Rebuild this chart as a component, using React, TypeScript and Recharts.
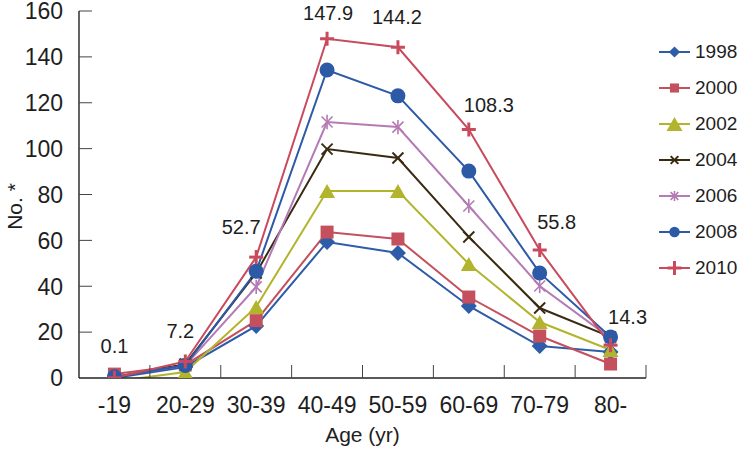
import React from "react";
import { LineChart, Line, XAxis, YAxis, LabelList } from "recharts";

const categories = ["-19", "20-29", "30-39", "40-49", "50-59", "60-69", "70-79", "80-"];
const s1998 = [0, 4.8, 22.7, 59.3, 54.5, 31.4, 13.9, 11.3];
const s2000 = [1.7, 5.7, 25, 63.6, 60.6, 35.3, 18.3, 6.1];
const s2002 = [-1.5, 2.6, 31, 81.5, 81.5, 49.7, 24.4, 12.2];
const s2004 = [0.3, 6, 45.8, 99.8, 95.9, 61.5, 30.5, 17.9];
const s2006 = [0.5, 5.5, 39.7, 111.6, 109.4, 75, 40.1, 17.4];
const s2008 = [0.5, 5.5, 46.5, 134.3, 123, 90.2, 45.8, 17.9];
const s2010 = [0.1, 7.2, 52.7, 147.9, 144.2, 108.3, 55.8, 14.3];
const yTicks = [0, 20, 40, 60, 80, 100, 120, 140, 160];

const FONT = "'Liberation Sans', Arial, sans-serif";
const INK = "#1e1e1e";

type Shape = "diamond" | "square" | "triangle" | "x" | "star" | "circle" | "plus";

const series: { key: string; name: string; values: number[]; color: string; shape: Shape }[] = [
  { key: "y1998", name: "1998", values: s1998, color: "#2e5ca8", shape: "diamond" },
  { key: "y2000", name: "2000", values: s2000, color: "#c4505e", shape: "square" },
  { key: "y2002", name: "2002", values: s2002, color: "#b2b52c", shape: "triangle" },
  { key: "y2004", name: "2004", values: s2004, color: "#3a2a12", shape: "x" },
  { key: "y2006", name: "2006", values: s2006, color: "#b47bb4", shape: "star" },
  { key: "y2008", name: "2008", values: s2008, color: "#2d5aa6", shape: "circle" },
  { key: "y2010", name: "2010", values: s2010, color: "#c84a5c", shape: "plus" },
];

const rows = categories.map((c, i) => {
  const row: Record<string, number | string> = { x: i + 0.5, label: c };
  series.forEach((s) => (row[s.key] = s.values[i]));
  return row;
});

// x ticks: labels on the half steps, inward tick marks on the whole steps
const xTicks = Array.from({ length: 17 }, (_, i) => i / 2);

// hand placed label offsets for the 2010 values, like the original
const labelOffsets = [
  [0, -32], [-5, -30], [-15, -30], [1, -26], [-1, -30], [20, -25], [17, -28], [17, -28],
];

function Marker({ shape, cx, cy, color, k = 1 }: { shape: Shape; cx: number; cy: number; color: string; k?: number }) {
  if (cx == null || cy == null) return null;
  switch (shape) {
    case "diamond": {
      const d = 8 * k;
      return <polygon points={`${cx},${cy - d} ${cx + d},${cy} ${cx},${cy + d} ${cx - d},${cy}`} fill={color} />;
    }
    case "square": {
      const d = 6.5 * k;
      return <rect x={cx - d} y={cy - d} width={2 * d} height={2 * d} fill={color} />;
    }
    case "triangle": {
      const w = 8 * k;
      const h = 7 * k;
      return <polygon points={`${cx},${cy - h} ${cx + w},${cy + h} ${cx - w},${cy + h}`} fill={color} />;
    }
    case "x": {
      const d = 5.5 * k;
      return (
        <g stroke={color} strokeWidth={2}>
          <line x1={cx - d} y1={cy - d} x2={cx + d} y2={cy + d} />
          <line x1={cx - d} y1={cy + d} x2={cx + d} y2={cy - d} />
        </g>
      );
    }
    case "star": {
      const d = 5.5 * k;
      return (
        <g stroke={color} strokeWidth={1.6}>
          <line x1={cx - d} y1={cy - d} x2={cx + d} y2={cy + d} />
          <line x1={cx - d} y1={cy + d} x2={cx + d} y2={cy - d} />
          <line x1={cx} y1={cy - d * 1.3} x2={cx} y2={cy + d * 1.3} />
        </g>
      );
    }
    case "circle":
      return <circle cx={cx} cy={cy} r={7.5 * k} fill={color} />;
    case "plus": {
      const d = 7 * k;
      return (
        <g stroke={color} strokeWidth={3}>
          <line x1={cx - d} y1={cy} x2={cx + d} y2={cy} />
          <line x1={cx} y1={cy - d} x2={cx} y2={cy + d} />
        </g>
      );
    }
  }
  return null;
}

function Legend() {
  return (
    <div style={{ position: "absolute", left: 657, top: 34, fontFamily: FONT, fontSize: 19, color: INK }}>
      {series.map((s) => (
        <div key={s.key} style={{ height: 36, display: "flex", alignItems: "center", whiteSpace: "nowrap" }}>
          <svg width={38} height={24}>
            <line x1={2} y1={12} x2={33} y2={12} stroke={s.color} strokeWidth={2} />
            <Marker shape={s.shape} cx={17.5} cy={12} color={s.color} k={s.shape === "triangle" || s.shape === "plus" ? 1 : 0.7} />
          </svg>
          <span>{s.name}</span>
        </div>
      ))}
    </div>
  );
}

function XTick({ x, y, payload }: any) {
  const v = payload.value;
  if (Number.isInteger(v)) {
    return v > 0 ? <line x1={x} x2={x} y1={y} y2={y - 13} stroke="#444" strokeWidth={1} /> : <g />;
  }
  return (
    <text x={x} y={y + 35} textAnchor="middle" fontSize={23} fill={INK} fontFamily={FONT}>
      {categories[Math.floor(v)]}
    </text>
  );
}

function YTick({ x, y, payload }: any) {
  const v = payload.value;
  return (
    <g>
      <text x={x - 16} y={y} dy="0.36em" textAnchor="end" fontSize={23} fill={INK} fontFamily={FONT}>
        {v}
      </text>
      {v > 0 && <line x1={x} x2={x + 13} y1={y} y2={y} stroke="#444" strokeWidth={1} />}
    </g>
  );
}

export default function App() {
  return (
    <div style={{ position: "absolute", left: 0, top: 0, width: 738, height: 456, background: "#fff" }}>
      <LineChart width={738} height={456} data={rows} margin={{ top: 11, right: 92, bottom: 0, left: 0 }}>
        <XAxis
          dataKey="x"
          type="number"
          domain={[0, 8]}
          ticks={xTicks}
          interval={0}
          tick={<XTick />}
          tickLine={false}
          tickSize={0}
          tickMargin={0}
          height={78}
          axisLine={{ stroke: "#222", strokeWidth: 1.4 }}
          label={{ value: "Age (yr)", position: "insideBottom", offset: 14, fontSize: 21, fill: INK, fontFamily: FONT }}
        />
        <YAxis
          type="number"
          domain={[0, 160]}
          ticks={yTicks}
          interval={0}
          allowDataOverflow
          tick={<YTick />}
          tickLine={false}
          tickSize={0}
          tickMargin={0}
          width={79}
          axisLine={{ stroke: "#222", strokeWidth: 1.4 }}
          label={{
            content: ({ viewBox }: any) => {
              const cy = viewBox.y + viewBox.height / 2 + 12;
              return (
                <text
                  x={22}
                  y={cy}
                  transform={`rotate(-90, 22, ${cy})`}
                  textAnchor="middle"
                  fontSize={21}
                  fill={INK}
                  fontFamily={FONT}
                >
                  No. *
                </text>
              );
            },
          }}
        />
        {series.map((s) => (
          <Line
            key={s.key}
            dataKey={s.key}
            stroke={s.color}
            strokeWidth={2}
            isAnimationActive={false}
            dot={(p: any) => <Marker key={p.index} shape={s.shape} cx={p.cx} cy={p.cy} color={s.color} />}
            activeDot={false}
          >
            {s.key === "y2010" && (
              <LabelList
                dataKey={s.key}
                content={(p: any) => {
                  const [dx, dy] = labelOffsets[p.index] || [0, -28];
                  return (
                    <text
                      x={p.x + dx}
                      y={p.y + dy}
                      textAnchor="middle"
                      dominantBaseline="central"
                      fontSize={20}
                      fill={INK}
                      fontFamily={FONT}
                    >
                      {p.value}
                    </text>
                  );
                }}
              />
            )}
          </Line>
        ))}
      </LineChart>
      <Legend />
    </div>
  );
}
